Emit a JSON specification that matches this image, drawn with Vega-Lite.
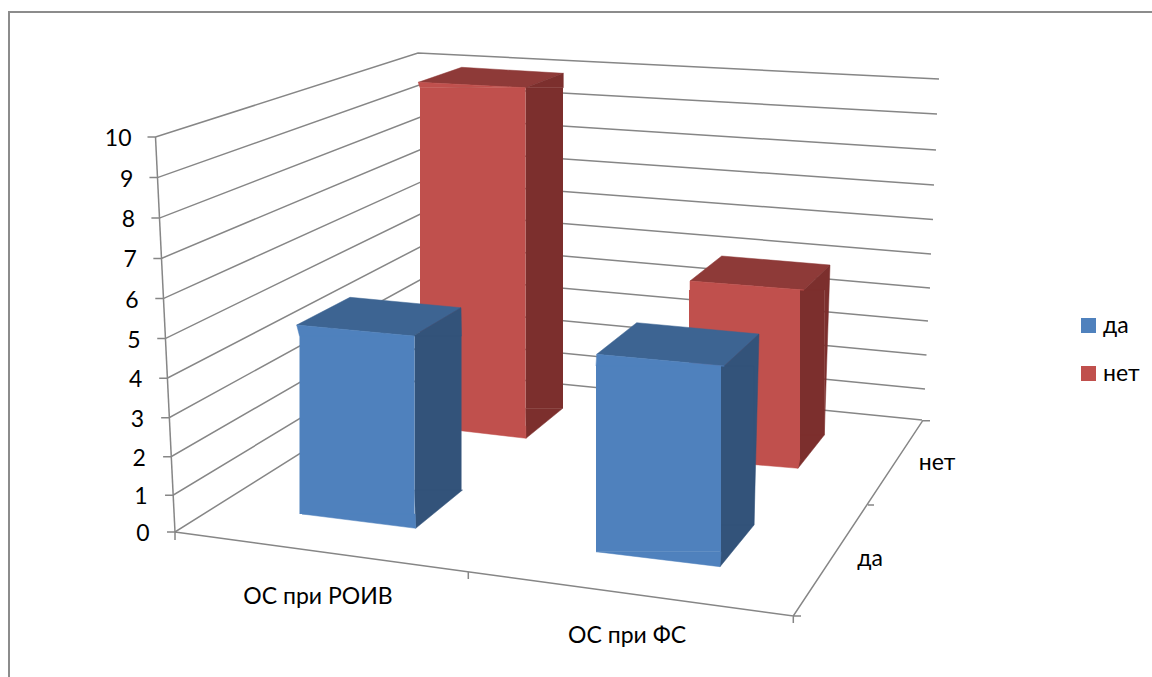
{"$schema":"https://vega.github.io/schema/vega-lite/v6.json","width":1152,"height":677,"padding":0,"autosize":{"type":"none"},"background":"white","config":{"view":{"stroke":null},"text":{"font":"Lato","fontSize":23,"color":"#000000"}},
"datasets":{"bars":[{"category":"ОС при РОИВ","series":"да","value":5},{"category":"ОС при РОИВ","series":"нет","value":10},{"category":"ОС при ФС","series":"да","value":5},{"category":"ОС при ФС","series":"нет","value":5}],
"categories":[{"category":"ОС при РОИВ"},{"category":"ОС при ФС"}],"series":[{"series":"да"},{"series":"нет"}],
"ticks":[{"tick":0},{"tick":1},{"tick":2},{"tick":3},{"tick":4},{"tick":5},{"tick":6},{"tick":7},{"tick":8},{"tick":9},{"tick":10}]},
"data":{"name":"bars"},
"resolve":{"scale":{"x":"independent","y":"independent"},"axis":{"x":"independent","y":"independent"}},
"layer":[
{"data":{"values":[{"v":0}]},"mark":{"type":"rule","color":"#8c8c8c","strokeWidth":2},"encoding":{"x":{"datum":9,"scale":{"domain":[0,1152],"range":[0,1152]},"axis":null},"y":{"datum":665,"scale":{"domain":[0,677],"range":[677,0]},"axis":null},"y2":{"datum":0}}},
{"data":{"values":[{"v":0}]},"mark":{"type":"rule","color":"#8c8c8c","strokeWidth":2},"encoding":{"x":{"datum":8,"scale":{"domain":[0,1152],"range":[0,1152]},"axis":null},"x2":{"datum":1152},"y":{"datum":665,"scale":{"domain":[0,677],"range":[677,0]},"axis":null}}},
{"data":{"name":"ticks"},"mark":{"type":"point","filled":false,"size":4,"opacity":1,"color":"#868686","strokeWidth":1.5},"encoding":{"x":{"field":"tick","type":"quantitative","scale":{"domain":[0,10],"range":[175,155.5]},"axis":null},"y":{"field":"tick","type":"quantitative","scale":{"type":"pow","exponent":1.03,"domain":[0,10],"range":[532,137]},"axis":null},"shape":{"field":"tick","type":"nominal","legend":null,"scale":{"domain":[0,1,2,3,4,5,6,7,8,9,10],"range":["M-8,0L0,0L256,-161L747,-112","M-8,0L0,0L256.65,-155.1L751.95,-106.1","M-8,0L0,0L257.3,-148.7L755.4,-101.7","M-8,0L0,0L257.95,-141.7L758.85,-96.7","M-8,0L0,0L258.6,-134.3L762.8,-90.3","M-8,0L0,0L259.25,-126.6L765.75,-84.6","M-8,0L0,0L259.9,-117.7L769.7,-79.2","M-8,0L0,0L260.55,-109.5L772.65,-73.5","M-8,0L0,0L261.2,-101.1L776.6,-68.1","M-8,0L0,0L261.85,-92.6L779.55,-63.6","M-8,0L0,0L262.5,-84L783.5,-58"]}}}},
{"data":{"values":[{"tick":0},{"tick":10}]},"mark":{"type":"line","color":"#868686","strokeWidth":1.5},"encoding":{"x":{"field":"tick","type":"quantitative","scale":{"domain":[0,10],"range":[175,155.5]},"axis":null},"y":{"field":"tick","type":"quantitative","scale":{"type":"pow","exponent":1.03,"domain":[0,10],"range":[532,137]},"axis":null}}},
{"data":{"values":[{"tick":0}]},"mark":{"type":"point","filled":false,"size":4,"opacity":1,"color":"#868686","strokeWidth":1.5,"shape":"M0,0V8M293.3,40.3V47M618.3,84V91M0,0L618.3,84L747.7,-111.3H755M693,-27H699M618.3,84H626"},"encoding":{"x":{"field":"tick","type":"quantitative","scale":{"domain":[0,10],"range":[175,155.5]},"axis":null},"y":{"field":"tick","type":"quantitative","scale":{"type":"pow","exponent":1.03,"domain":[0,10],"range":[532,137]},"axis":null}}},
{"data":{"name":"ticks"},"mark":{"type":"text","align":"right","baseline":"middle"},"encoding":{"text":{"field":"tick","type":"nominal"},"x":{"field":"tick","type":"quantitative","scale":{"domain":[0,10],"range":[149.5,131.5]},"axis":null},"y":{"field":"tick","type":"quantitative","scale":{"type":"pow","exponent":1.03,"domain":[0,10],"range":[534,139]},"axis":null}}},
{"data":{"name":"categories"},"mark":{"type":"text","align":"center","baseline":"middle"},"encoding":{"text":{"field":"category","type":"nominal"},"x":{"field":"category","type":"nominal","scale":{"type":"point","padding":0,"domain":["ОС при РОИВ","ОС при ФС"],"range":[318,627]},"axis":null},"y":{"field":"category","type":"nominal","scale":{"type":"point","padding":0,"domain":["ОС при РОИВ","ОС при ФС"],"range":[597,636]},"axis":null}}},
{"data":{"name":"series"},"mark":{"type":"text","align":"center","baseline":"middle"},"encoding":{"text":{"field":"series","type":"nominal"},"x":{"field":"series","type":"nominal","scale":{"type":"point","padding":0,"domain":["да","нет"],"range":[870,937]},"axis":null},"y":{"field":"series","type":"nominal","scale":{"type":"point","padding":0,"domain":["да","нет"],"range":[559,463]},"axis":null}}},

{"transform":[{"filter":"datum.category==='ОС при РОИВ'&&datum.series==='нет'"}],"mark":{"type":"bar","color":"#7C2F2D"},"encoding":{"x":{"field":"category","type":"nominal","scale":{"type":"band","domain":["ОС при РОИВ"],"range":[525.5,563],"padding":0},"axis":null},"y":{"field":"value","type":"quantitative","scale":{"domain":[0,10],"range":[408.3,87.7]},"axis":null}}},
{"transform":[{"filter":"datum.category==='ОС при РОИВ'&&datum.series==='нет'"}],"mark":{"type":"point","filled":true,"size":4,"opacity":1,"color":"#8E3A38","stroke":"#8E3A38","strokeWidth":0.5,"shape":"M-54.45,-5.4L-11.05,-20.4L90.55,-14.4L52.75,0Z"},"encoding":{"x":{"field":"category","type":"nominal","scale":{"type":"band","domain":["ОС при РОИВ"],"range":[420,525.5],"padding":0},"axis":null},"y":{"field":"value","type":"quantitative","scale":{"domain":[0,10],"range":[426,87.7]},"axis":null}}},
{"transform":[{"filter":"datum.category==='ОС при РОИВ'&&datum.series==='нет'"}],"mark":{"type":"point","filled":true,"size":4,"opacity":1,"color":"#7C2F2D","stroke":"#7C2F2D","strokeWidth":0.5,"shape":"M52.75,0L90.55,-14.4L90.55,0Z"},"encoding":{"x":{"field":"category","type":"nominal","scale":{"type":"band","domain":["ОС при РОИВ"],"range":[420,525.5],"padding":0},"axis":null},"y":{"field":"value","type":"quantitative","scale":{"domain":[0,10],"range":[426,87.7]},"axis":null}}},
{"transform":[{"filter":"datum.category==='ОС при РОИВ'&&datum.series==='нет'"}],"mark":{"type":"point","filled":true,"size":4,"opacity":1,"color":"#7C2F2D","stroke":"#7C2F2D","strokeWidth":0.5,"shape":"M52.75,-17.7L90,-17.7L53.25,12.3Z"},"encoding":{"x":{"field":"category","type":"nominal","scale":{"type":"band","domain":["ОС при РОИВ"],"range":[420,525.5],"padding":0},"axis":null},"y":{"datum":0,"type":"quantitative","scale":{"domain":[0,10],"range":[426,87.7]},"axis":null}}},
{"transform":[{"filter":"datum.category==='ОС при РОИВ'&&datum.series==='нет'"}],"mark":{"type":"bar"},"encoding":{"x":{"field":"category","type":"nominal","scale":{"type":"band","domain":["ОС при РОИВ"],"range":[420,525.5],"padding":0},"axis":null},"y":{"field":"value","type":"quantitative","scale":{"domain":[0,10],"range":[426,87.7]},"axis":null},"color":{"field":"series","type":"nominal","scale":{"domain":["да","нет"],"range":["#4F81BD","#C0504D"]},"legend":{"title":null,"orient":"none","legendX":1077,"legendY":313.5,"symbolType":"square","symbolSize":225,"symbolStrokeWidth":0,"symbolOpacity":1,"labelFont":"Lato","labelFontSize":23,"labelColor":"#000000","labelOffset":3,"rowPadding":24,"clipHeight":24}}}},
{"transform":[{"filter":"datum.category==='ОС при РОИВ'&&datum.series==='нет'"}],"mark":{"type":"point","filled":true,"size":4,"opacity":1,"color":"#C0504D","stroke":"#C0504D","strokeWidth":0.5,"shape":"M-54.45,-5.4L52.75,0L-52.75,0Z"},"encoding":{"x":{"field":"category","type":"nominal","scale":{"type":"band","domain":["ОС при РОИВ"],"range":[420,525.5],"padding":0},"axis":null},"y":{"field":"value","type":"quantitative","scale":{"domain":[0,10],"range":[426,87.7]},"axis":null}}},
{"transform":[{"filter":"datum.category==='ОС при РОИВ'&&datum.series==='нет'"}],"mark":{"type":"point","filled":true,"size":4,"opacity":1,"color":"#C0504D","stroke":"#C0504D","strokeWidth":0.5,"shape":"M-52.75,0L53.25,12.3L53,0Z"},"encoding":{"x":{"field":"category","type":"nominal","scale":{"type":"band","domain":["ОС при РОИВ"],"range":[420,525.5],"padding":0},"axis":null},"y":{"datum":0,"type":"quantitative","scale":{"domain":[0,10],"range":[426,87.7]},"axis":null}}},

{"transform":[{"filter":"datum.category==='ОС при ФС'&&datum.series==='нет'"}],"mark":{"type":"bar","color":"#7C2F2D"},"encoding":{"x":{"field":"category","type":"nominal","scale":{"type":"band","domain":["ОС при ФС"],"range":[800,824.3],"padding":0},"axis":null},"y":{"field":"value","type":"quantitative","scale":{"domain":[0,10],"range":[435,145]},"axis":null}}},
{"transform":[{"filter":"datum.category==='ОС при ФС'&&datum.series==='нет'"}],"mark":{"type":"point","filled":true,"size":4,"opacity":1,"color":"#8E3A38","stroke":"#8E3A38","strokeWidth":0.5,"shape":"M-54.5,-9L-22.8,-34L85.5,-25L59.5,0Z"},"encoding":{"x":{"field":"category","type":"nominal","scale":{"type":"band","domain":["ОС при ФС"],"range":[689,800],"padding":0},"axis":null},"y":{"field":"value","type":"quantitative","scale":{"domain":[0,10],"range":[459,121]},"axis":null}}},
{"transform":[{"filter":"datum.category==='ОС при ФС'&&datum.series==='нет'"}],"mark":{"type":"point","filled":true,"size":4,"opacity":1,"color":"#7C2F2D","stroke":"#7C2F2D","strokeWidth":0.5,"shape":"M55.5,0L59.5,0L85.5,-25L79.8,145L79.8,0Z"},"encoding":{"x":{"field":"category","type":"nominal","scale":{"type":"band","domain":["ОС при ФС"],"range":[689,800],"padding":0},"axis":null},"y":{"field":"value","type":"quantitative","scale":{"domain":[0,10],"range":[459,121]},"axis":null}}},
{"transform":[{"filter":"datum.category==='ОС при ФС'&&datum.series==='нет'"}],"mark":{"type":"point","filled":true,"size":4,"opacity":1,"color":"#7C2F2D","stroke":"#7C2F2D","strokeWidth":0.5,"shape":"M55.5,-24L79.8,-24L53.5,9.3Z"},"encoding":{"x":{"field":"category","type":"nominal","scale":{"type":"band","domain":["ОС при ФС"],"range":[689,800],"padding":0},"axis":null},"y":{"datum":0,"type":"quantitative","scale":{"domain":[0,10],"range":[459,121]},"axis":null}}},
{"transform":[{"filter":"datum.category==='ОС при ФС'&&datum.series==='нет'"}],"mark":{"type":"bar"},"encoding":{"x":{"field":"category","type":"nominal","scale":{"type":"band","domain":["ОС при ФС"],"range":[689,800],"padding":0},"axis":null},"y":{"field":"value","type":"quantitative","scale":{"domain":[0,10],"range":[459,121]},"axis":null},"color":{"field":"series","type":"nominal","scale":{"domain":["да","нет"],"range":["#4F81BD","#C0504D"]}}}},
{"transform":[{"filter":"datum.category==='ОС при ФС'&&datum.series==='нет'"}],"mark":{"type":"point","filled":true,"size":4,"opacity":1,"color":"#C0504D","stroke":"#C0504D","strokeWidth":0.5,"shape":"M-54.5,-9L59.5,0L-54.5,0Z"},"encoding":{"x":{"field":"category","type":"nominal","scale":{"type":"band","domain":["ОС при ФС"],"range":[689,800],"padding":0},"axis":null},"y":{"field":"value","type":"quantitative","scale":{"domain":[0,10],"range":[459,121]},"axis":null}}},
{"transform":[{"filter":"datum.category==='ОС при ФС'&&datum.series==='нет'"}],"mark":{"type":"point","filled":true,"size":4,"opacity":1,"color":"#C0504D","stroke":"#C0504D","strokeWidth":0.5,"shape":"M-55.5,0L53.5,9.3L55.5,0Z"},"encoding":{"x":{"field":"category","type":"nominal","scale":{"type":"band","domain":["ОС при ФС"],"range":[689,800],"padding":0},"axis":null},"y":{"datum":0,"type":"quantitative","scale":{"domain":[0,10],"range":[459,121]},"axis":null}}},

{"transform":[{"filter":"datum.category==='ОС при РОИВ'&&datum.series==='да'"}],"mark":{"type":"bar","color":"#33537A"},"encoding":{"x":{"field":"category","type":"nominal","scale":{"type":"band","domain":["ОС при РОИВ"],"range":[414.5,461.5],"padding":0},"axis":null},"y":{"field":"value","type":"quantitative","scale":{"domain":[0,10],"range":[490,182]},"axis":null}}},
{"transform":[{"filter":"datum.category==='ОС при РОИВ'&&datum.series==='да'"}],"mark":{"type":"point","filled":true,"size":4,"opacity":1,"color":"#3D6492","stroke":"#3D6492","strokeWidth":0.5,"shape":"M-60.3,-11L-7,-38.7L104,-28.3L56.3,0Z"},"encoding":{"x":{"field":"category","type":"nominal","scale":{"type":"band","domain":["ОС при РОИВ"],"range":[299.5,414.5],"padding":0},"axis":null},"y":{"field":"value","type":"quantitative","scale":{"domain":[0,10],"range":[514,158]},"axis":null}}},
{"transform":[{"filter":"datum.category==='ОС при РОИВ'&&datum.series==='да'"}],"mark":{"type":"point","filled":true,"size":4,"opacity":1,"color":"#33537A","stroke":"#33537A","strokeWidth":0.5,"shape":"M56.3,0L104,-28.3L104.5,0Z"},"encoding":{"x":{"field":"category","type":"nominal","scale":{"type":"band","domain":["ОС при РОИВ"],"range":[299.5,414.5],"padding":0},"axis":null},"y":{"field":"value","type":"quantitative","scale":{"domain":[0,10],"range":[514,158]},"axis":null}}},
{"transform":[{"filter":"datum.category==='ОС при РОИВ'&&datum.series==='да'"}],"mark":{"type":"point","filled":true,"size":4,"opacity":1,"color":"#33537A","stroke":"#33537A","strokeWidth":0.5,"shape":"M57.5,-24L105.5,-24L58.7,14.3Z"},"encoding":{"x":{"field":"category","type":"nominal","scale":{"type":"band","domain":["ОС при РОИВ"],"range":[299.5,414.5],"padding":0},"axis":null},"y":{"datum":0,"type":"quantitative","scale":{"domain":[0,10],"range":[514,158]},"axis":null}}},
{"transform":[{"filter":"datum.category==='ОС при РОИВ'&&datum.series==='да'"}],"mark":{"type":"bar"},"encoding":{"x":{"field":"category","type":"nominal","scale":{"type":"band","domain":["ОС при РОИВ"],"range":[299.5,414.5],"padding":0},"axis":null},"y":{"field":"value","type":"quantitative","scale":{"domain":[0,10],"range":[514,158]},"axis":null},"color":{"field":"series","type":"nominal","scale":{"domain":["да","нет"],"range":["#4F81BD","#C0504D"]}}}},
{"transform":[{"filter":"datum.category==='ОС при РОИВ'&&datum.series==='да'"}],"mark":{"type":"point","filled":true,"size":4,"opacity":1,"color":"#4F81BD","stroke":"#4F81BD","strokeWidth":0.5,"shape":"M-60.3,-11L56.3,0L57.5,0L-57.5,0Z"},"encoding":{"x":{"field":"category","type":"nominal","scale":{"type":"band","domain":["ОС при РОИВ"],"range":[299.5,414.5],"padding":0},"axis":null},"y":{"field":"value","type":"quantitative","scale":{"domain":[0,10],"range":[514,158]},"axis":null}}},
{"transform":[{"filter":"datum.category==='ОС при РОИВ'&&datum.series==='да'"}],"mark":{"type":"point","filled":true,"size":4,"opacity":1,"color":"#4F81BD","stroke":"#4F81BD","strokeWidth":0.5,"shape":"M-55,0L58.7,14.3L58.2,0Z"},"encoding":{"x":{"field":"category","type":"nominal","scale":{"type":"band","domain":["ОС при РОИВ"],"range":[299.5,414.5],"padding":0},"axis":null},"y":{"datum":0,"type":"quantitative","scale":{"domain":[0,10],"range":[514,158]},"axis":null}}},

{"transform":[{"filter":"datum.category==='ОС при ФС'&&datum.series==='да'"}],"mark":{"type":"bar","color":"#33537A"},"encoding":{"x":{"field":"category","type":"nominal","scale":{"type":"band","domain":["ОС при ФС"],"range":[721,754],"padding":0},"axis":null},"y":{"field":"value","type":"quantitative","scale":{"domain":[0,10],"range":[525,207]},"axis":null}}},
{"transform":[{"filter":"datum.category==='ОС при ФС'&&datum.series==='да'"}],"mark":{"type":"point","filled":true,"size":4,"opacity":1,"color":"#3D6492","stroke":"#3D6492","strokeWidth":0.5,"shape":"M-61.8,-11.7L-21.8,-43.3L100.5,-32L65.8,0Z"},"encoding":{"x":{"field":"category","type":"nominal","scale":{"type":"band","domain":["ОС при ФС"],"range":[596,721],"padding":0},"axis":null},"y":{"field":"value","type":"quantitative","scale":{"domain":[0,10],"range":[551.7,180.3]},"axis":null}}},
{"transform":[{"filter":"datum.category==='ОС при ФС'&&datum.series==='да'"}],"mark":{"type":"point","filled":true,"size":4,"opacity":1,"color":"#33537A","stroke":"#33537A","strokeWidth":0.5,"shape":"M62.5,0L65.8,0L100.5,-32L95.5,159L95.5,0Z"},"encoding":{"x":{"field":"category","type":"nominal","scale":{"type":"band","domain":["ОС при ФС"],"range":[596,721],"padding":0},"axis":null},"y":{"field":"value","type":"quantitative","scale":{"domain":[0,10],"range":[551.7,180.3]},"axis":null}}},
{"transform":[{"filter":"datum.category==='ОС при ФС'&&datum.series==='да'"}],"mark":{"type":"point","filled":true,"size":4,"opacity":1,"color":"#33537A","stroke":"#33537A","strokeWidth":0.5,"shape":"M62.5,-26.7L95.5,-26.7L61.5,15Z"},"encoding":{"x":{"field":"category","type":"nominal","scale":{"type":"band","domain":["ОС при ФС"],"range":[596,721],"padding":0},"axis":null},"y":{"datum":0,"type":"quantitative","scale":{"domain":[0,10],"range":[551.7,180.3]},"axis":null}}},
{"transform":[{"filter":"datum.category==='ОС при ФС'&&datum.series==='да'"}],"mark":{"type":"bar"},"encoding":{"x":{"field":"category","type":"nominal","scale":{"type":"band","domain":["ОС при ФС"],"range":[596,721],"padding":0},"axis":null},"y":{"field":"value","type":"quantitative","scale":{"domain":[0,10],"range":[551.7,180.3]},"axis":null},"color":{"field":"series","type":"nominal","scale":{"domain":["да","нет"],"range":["#4F81BD","#C0504D"]}}}},
{"transform":[{"filter":"datum.category==='ОС при ФС'&&datum.series==='да'"}],"mark":{"type":"point","filled":true,"size":4,"opacity":1,"color":"#4F81BD","stroke":"#4F81BD","strokeWidth":0.5,"shape":"M-61.8,-11.7L65.8,0L-62.5,0Z"},"encoding":{"x":{"field":"category","type":"nominal","scale":{"type":"band","domain":["ОС при ФС"],"range":[596,721],"padding":0},"axis":null},"y":{"field":"value","type":"quantitative","scale":{"domain":[0,10],"range":[551.7,180.3]},"axis":null}}},
{"transform":[{"filter":"datum.category==='ОС при ФС'&&datum.series==='да'"}],"mark":{"type":"point","filled":true,"size":4,"opacity":1,"color":"#4F81BD","stroke":"#4F81BD","strokeWidth":0.5,"shape":"M-62.5,0L61.5,15L62.5,0Z"},"encoding":{"x":{"field":"category","type":"nominal","scale":{"type":"band","domain":["ОС при ФС"],"range":[596,721],"padding":0},"axis":null},"y":{"datum":0,"type":"quantitative","scale":{"domain":[0,10],"range":[551.7,180.3]},"axis":null}}}
]}
